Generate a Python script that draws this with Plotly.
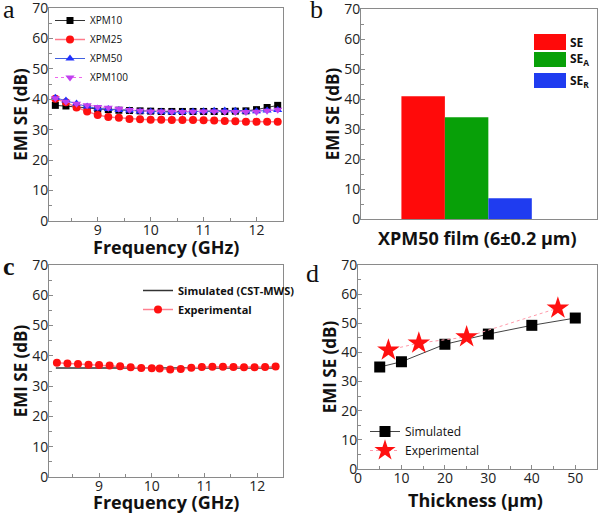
import plotly.graph_objects as go
from plotly.subplots import make_subplots

# ---------------- data ----------------
freq_a = [8.2, 8.4, 8.6, 8.8, 9.0, 9.2, 9.4, 9.6, 9.8, 10.0, 10.2,
          10.4, 10.6, 10.8, 11.0, 11.2, 11.4, 11.6, 11.8, 12.0, 12.2, 12.4]
xpm10 = [38.0, 37.8, 37.6, 37.2, 36.8, 36.6, 36.4, 36.3, 36.2, 36.1, 36.0,
         36.0, 36.0, 36.0, 36.0, 36.0, 36.0, 36.1, 36.2, 36.6, 37.3, 38.0]
xpm25 = [40.2, 39.0, 37.3, 36.0, 34.8, 34.2, 33.9, 33.5, 33.4, 33.3, 33.3,
         33.2, 33.2, 33.2, 33.1, 33.0, 32.9, 32.8, 32.6, 32.6, 32.6, 32.6]
xpm50 = [40.5, 39.6, 38.6, 37.6, 37.0, 36.8, 36.5, 36.3, 36.0, 36.0, 35.9,
         35.7, 35.8, 36.0, 36.1, 36.2, 36.3, 36.2, 36.0, 36.1, 36.3, 36.5]
xpm100 = [40.3, 39.2, 38.5, 38.0, 37.5, 37.2, 36.9, 36.5, 36.2, 36.0, 36.0,
          35.9, 35.8, 35.9, 36.0, 36.0, 35.9, 35.8, 35.8, 35.9, 36.2, 36.6]

bar_names = ["SE", "SE<sub>A</sub>", "SE<sub>R</sub>"]
bar_pos = [1, 2, 3]
bar_vals = [40.9, 33.9, 6.9]

sim_c_x = [8.18, 12.35]
sim_c_y = [36.0, 36.0]
exp_c_x = [8.2, 8.4, 8.6, 8.8, 9.0, 9.2, 9.4, 9.6, 9.8, 10.0, 10.15,
           10.35, 10.55, 10.75, 10.95, 11.15, 11.35, 11.55, 11.75, 11.95, 12.15, 12.35]
exp_c_y = [37.7, 37.5, 37.3, 37.1, 37.0, 36.8, 36.6, 36.2, 36.0, 35.9, 35.8,
           35.5, 35.7, 36.1, 36.3, 36.4, 36.4, 36.3, 36.2, 36.2, 36.3, 36.5]

thick_sim = [5, 10, 20, 30, 40, 50]
se_sim = [35.0, 36.8, 42.8, 46.3, 49.3, 51.8]
thick_exp = [7, 14, 25, 46]
se_exp = [40.8, 43.2, 45.3, 55.2]

# ---------------- figure ----------------
W, H = 600, 513
fig = make_subplots(rows=2, cols=2)

def px_x(p):
    return p / W

def px_y(p):
    return 1 - p / H

dom = {
    (1, 1): ([49, 283], [8, 221]),
    (1, 2): ([361, 597], [9, 219]),
    (2, 1): ([49, 283], [265, 477]),
    (2, 2): ([358, 597], [265, 469]),
}

tickfont = dict(family="Open Sans, sans-serif", size=14, color="#222")
titlefont = dict(family="Open Sans, sans-serif", size=17, color="#111")
axcol = "#8a8a8a"

# panel a
fig.add_trace(go.Scatter(x=freq_a, y=xpm10, name="XPM10", mode="lines+markers",
                         line=dict(color="#333", width=1),
                         marker=dict(symbol="square", size=7, color="black"),
                         legend="legend"), row=1, col=1)
fig.add_trace(go.Scatter(x=freq_a, y=xpm25, name="XPM25", mode="lines+markers",
                         line=dict(color="#ff7a8a", width=1.5),
                         marker=dict(symbol="circle", size=8, color="#ff1010"),
                         legend="legend"), row=1, col=1)
fig.add_trace(go.Scatter(x=freq_a, y=xpm50, name="XPM50", mode="lines+markers",
                         line=dict(color="#4060e0", width=1),
                         marker=dict(symbol="triangle-up", size=8, color="#2030ff"),
                         legend="legend"), row=1, col=1)
fig.add_trace(go.Scatter(x=freq_a, y=xpm100, name="XPM100", mode="lines+markers",
                         line=dict(color="#ee66ee", width=1, dash="dot"),
                         marker=dict(symbol="triangle-down", size=8, color="#c040f0"),
                         legend="legend"), row=1, col=1)

# panel b
bar_colors = ["#ff0a0a", "#08a008", "#1f3cf0"]
for n, xp, v, c in zip(bar_names, bar_pos, bar_vals, bar_colors):
    fig.add_trace(go.Bar(x=[xp], y=[v], name=n, width=1, marker=dict(color=c, line=dict(width=0)),
                         showlegend=False), row=1, col=2)

# panel c
fig.add_trace(go.Scatter(x=sim_c_x, y=sim_c_y, name="<b>Simulated (CST-MWS)</b>", mode="lines",
                         line=dict(color="#333", width=1.5), legend="legend2"), row=2, col=1)
fig.add_trace(go.Scatter(x=exp_c_x, y=exp_c_y, name="<b>Experimental</b>", mode="lines+markers",
                         line=dict(color="#ff8090", width=1.5),
                         marker=dict(symbol="circle", size=8, color="#ff1010"),
                         legend="legend2"), row=2, col=1)

# panel d
fig.add_trace(go.Scatter(x=thick_sim, y=se_sim, name="Simulated", mode="lines+markers",
                         line=dict(color="#444", width=1),
                         marker=dict(symbol="square", size=11, color="black"),
                         legend="legend3"), row=2, col=2)
fig.add_trace(go.Scatter(x=thick_exp, y=se_exp, name="Experimental", mode="lines+markers",
                         line=dict(color="#ff9aaa", width=1, dash="dot"),
                         marker=dict(symbol="star", size=17, color="#ff1010"),
                         legend="legend3"), row=2, col=2)

# axes
common = dict(showline=True, linecolor=axcol, linewidth=1, mirror=True,
              ticks="inside", ticklen=4, tickcolor=axcol, showgrid=False, zeroline=False,
              tickfont=tickfont, automargin=False, ticklabeloverflow="allow")
yax = dict(common, range=[0, 70], dtick=10, ticklabelstandoff=-3,
           minor=dict(dtick=5, ticks="inside", ticklen=3, tickcolor=axcol),
           title=dict(text="<b>EMI SE (dB)</b>", font=titlefont, standoff=0))

ax_names = {(1, 1): ("xaxis", "yaxis"), (1, 2): ("xaxis2", "yaxis2"),
            (2, 1): ("xaxis3", "yaxis3"), (2, 2): ("xaxis4", "yaxis4")}
layout_upd = {}
for k, (xn, yn) in ax_names.items():
    xd, yd = dom[k]
    layout_upd[xn] = dict(domain=[px_x(xd[0]), px_x(xd[1])])
    layout_upd[yn] = dict(yax, domain=[px_y(yd[1]), px_y(yd[0])])

freq_ax = dict(common, range=[8.08, 12.5], tickvals=[9, 10, 11, 12], ticklabelstandoff=-4,
               minor=dict(tickvals=[8.5, 9.5, 10.5, 11.5, 12.5], ticks="inside", ticklen=3, tickcolor=axcol))
layout_upd["xaxis"].update(freq_ax)
layout_upd["xaxis3"].update(freq_ax)
layout_upd["xaxis3"]["range"] = [8.05, 12.49]
layout_upd["xaxis2"].update(dict(showline=True, linecolor=axcol, linewidth=1, mirror=True,
                                 showticklabels=False, ticks="", showgrid=False, zeroline=False,
                                 range=[-0.43, 5.0], automargin=False))
layout_upd["xaxis4"].update(dict(common, range=[0, 55], dtick=10, ticklabelstandoff=-4,
                                 minor=dict(dtick=5, ticks="inside", ticklen=3, tickcolor=axcol)))
fig.update_layout(**layout_upd)

# x-axis titles
xt_font = dict(family="Open Sans, sans-serif", size=18, color="#111")
for txt, cx, cy in [("Frequency (GHz)", 166, 247), ("XPM50 film (6±0.2 μm)", 477, 238),
                    ("Frequency (GHz)", 166, 502), ("Thickness (μm)", 475, 500)]:
    fig.add_annotation(xref="paper", yref="paper", x=px_x(cx), y=px_y(cy), showarrow=False,
                       xanchor="center", yanchor="middle", text="<b>%s</b>" % txt, font=xt_font)

# legend b as shapes + text
leg_rows = [(34, 50), (52, 67), (73, 88)]
for (y0, y1), c, n in zip(leg_rows, bar_colors, bar_names):
    fig.add_shape(type="rect", xref="paper", yref="paper",
                  x0=px_x(534), x1=px_x(566), y0=px_y(y1), y1=px_y(y0),
                  fillcolor=c, line=dict(width=0))
    fig.add_annotation(xref="paper", yref="paper", x=px_x(568), y=px_y((y0 + y1) / 2),
                       text="<b>" + n + "</b>", showarrow=False, xanchor="left", yanchor="middle",
                       font=dict(family="Open Sans, sans-serif", size=12, color="#111"))

# panel labels
for txt, x, y, bold in [("a", 1, 9, False), ("b", 308, 9, False), ("c", 1, 266, True), ("d", 304, 273, False)]:
    fig.add_annotation(xref="paper", yref="paper", x=px_x(x), y=px_y(y), showarrow=False,
                       xanchor="left", yanchor="middle",
                       text=("<b>%s</b>" % txt) if bold else txt,
                       font=dict(family="Liberation Serif, serif", size=26, color="#111"))

fig.update_layout(
    width=W, height=H, margin=dict(l=0, r=0, t=0, b=0, autoexpand=False),
    paper_bgcolor="white", plot_bgcolor="white",
    showlegend=True,
    legend=dict(x=px_x(50), y=px_y(6), xanchor="left", yanchor="top",
                bgcolor="rgba(0,0,0,0)", font=dict(family="Open Sans, sans-serif", size=10, color="#111"),
                itemwidth=30),
    legend2=dict(x=px_x(138), y=px_y(276), xanchor="left", yanchor="top",
                 bgcolor="rgba(0,0,0,0)", font=dict(family="Open Sans, sans-serif", size=11, color="#111"),
                 itemwidth=30),
    legend3=dict(x=px_x(365), y=px_y(417), xanchor="left", yanchor="top",
                 bgcolor="rgba(0,0,0,0)", font=dict(family="Open Sans, sans-serif", size=12, color="#111"),
                 itemwidth=30),
)

fig.write_html("out.html", config={"displayModeBar": False},
               post_script="document.body.style.margin='0';")
